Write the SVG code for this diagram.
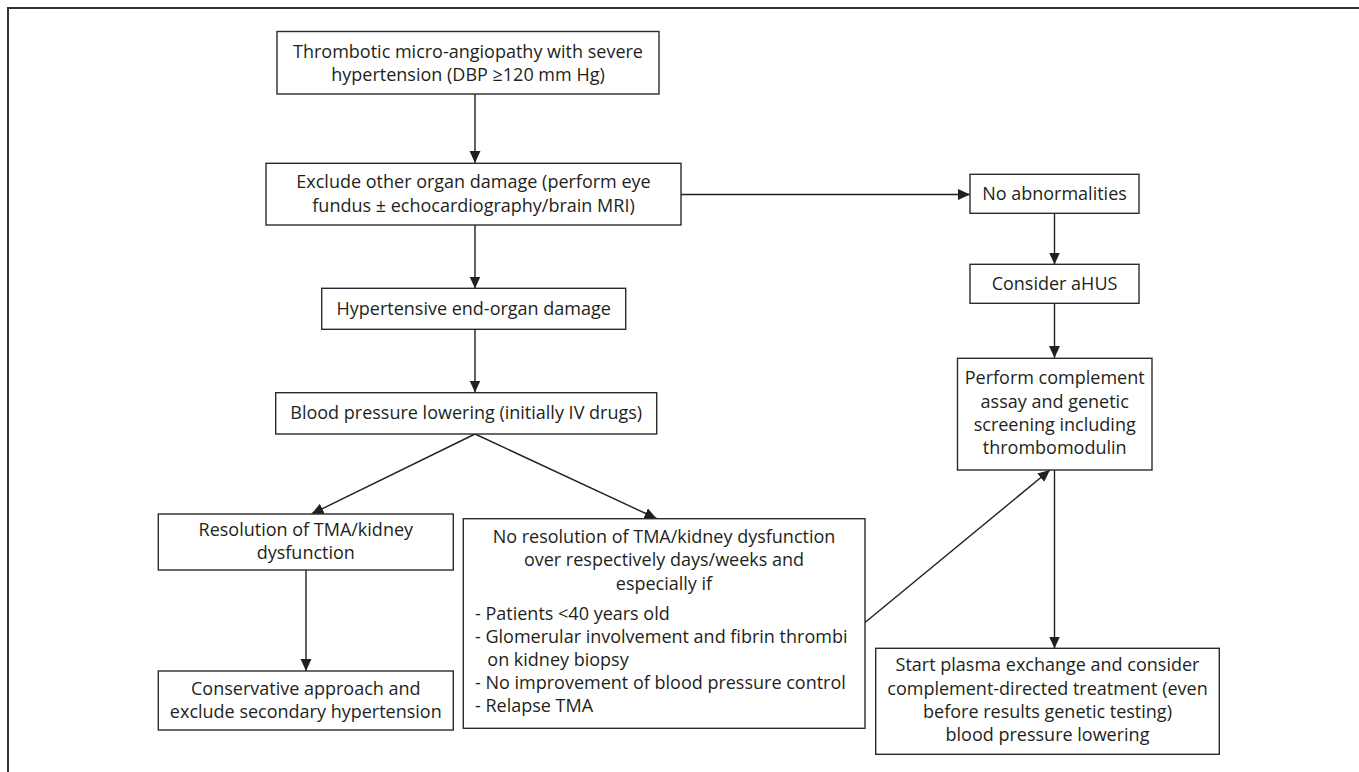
<svg xmlns="http://www.w3.org/2000/svg" width="1359" height="772" viewBox="0 0 1359 772">
<style>
  .box{fill:#ffffff;stroke:#2b2b2b;stroke-width:1.4}
  .t{font-family:"Open Sans","Noto Sans",sans-serif;font-size:18px;fill:#231f20}
  .c{text-anchor:middle}
  .ln{fill:none;stroke:#231f20;stroke-width:1.4}
  .frame{fill:none;stroke:#333333;stroke-width:2}
</style>
<defs>
  <marker id="arr" markerUnits="userSpaceOnUse" markerWidth="12" markerHeight="12" refX="11" refY="5" orient="auto" viewBox="0 0 11 10">
    <path d="M0,0 L11,5 L0,10 z" fill="#231f20"/>
  </marker>
</defs>
<rect width="1359" height="772" fill="#ffffff"/>
<path class="frame" d="M8,772 V8 H1359"/>

<g id="connectors">
  <line class="ln" x1="475" y1="94" x2="475" y2="163" marker-end="url(#arr)"/>
  <line class="ln" x1="475" y1="225" x2="475" y2="288.5" marker-end="url(#arr)"/>
  <line class="ln" x1="475" y1="329.5" x2="475" y2="392.5" marker-end="url(#arr)"/>
  <line class="ln" x1="475" y1="434" x2="311.5" y2="514" marker-end="url(#arr)"/>
  <line class="ln" x1="475" y1="434" x2="656.5" y2="518.5" marker-end="url(#arr)"/>
  <line class="ln" x1="681" y1="194.5" x2="970" y2="194.5" marker-end="url(#arr)"/>
  <line class="ln" x1="1054.5" y1="213.5" x2="1054.5" y2="264.5" marker-end="url(#arr)"/>
  <line class="ln" x1="1054.5" y1="303.5" x2="1054.5" y2="358" marker-end="url(#arr)"/>
  <line class="ln" x1="865" y1="622.5" x2="1050" y2="470" marker-end="url(#arr)"/>
  <line class="ln" x1="1054.5" y1="470" x2="1054.5" y2="648.5" marker-end="url(#arr)"/>
  <line class="ln" x1="306" y1="570" x2="306" y2="671" marker-end="url(#arr)"/>
</g>

<g id="n1">
  <rect class="box" x="277" y="31.5" width="382" height="62.5"/>
  <text class="t c" x="468" y="57.5">Thrombotic micro-angiopathy with severe</text>
  <text class="t c" x="468" y="80.8">hypertension (DBP ≥120 mm Hg)</text>
</g>
<g id="n2">
  <rect class="box" x="266" y="163.3" width="415" height="61.7"/>
  <text class="t c" x="473.5" y="188.3">Exclude other organ damage (perform eye</text>
  <text class="t c" x="473.5" y="211.6">fundus ± echocardiography/brain MRI)</text>
</g>
<g id="n3">
  <rect class="box" x="321.7" y="288.3" width="304" height="41"/>
  <text class="t c" x="473.7" y="314.5">Hypertensive end-organ damage</text>
</g>
<g id="n4">
  <rect class="box" x="275.7" y="392.7" width="381" height="41.3"/>
  <text class="t c" x="466.2" y="419">Blood pressure lowering (initially IV drugs)</text>
</g>
<g id="n5">
  <rect class="box" x="158.3" y="514" width="295" height="56"/>
  <text class="t c" x="305.8" y="536">Resolution of TMA/kidney</text>
  <text class="t c" x="305.8" y="559.3">dysfunction</text>
</g>
<g id="n6">
  <rect class="box" x="158.3" y="671" width="295" height="59"/>
  <text class="t c" x="305.8" y="694.5">Conservative approach and</text>
  <text class="t c" x="305.8" y="717.8">exclude secondary hypertension</text>
</g>
<g id="n7">
  <rect class="box" x="463.3" y="518.7" width="401.7" height="209.6"/>
  <text class="t c" x="664" y="543">No resolution of TMA/kidney dysfunction</text>
  <text class="t c" x="664" y="566.4">over respectively days/weeks and</text>
  <text class="t c" x="664" y="589.7">especially if</text>
  <text class="t" x="475" y="619.7">- Patients &lt;40 years old</text>
  <text class="t" x="475" y="643">- Glomerular involvement and fibrin thrombi</text>
  <text class="t" x="487.3" y="666.4">on kidney biopsy</text>
  <text class="t" x="475" y="689">- No improvement of blood pressure control</text>
  <text class="t" x="475" y="712.4">- Relapse TMA</text>
</g>
<g id="n8">
  <rect class="box" x="970" y="174.3" width="169" height="39"/>
  <text class="t c" x="1054.5" y="199.5">No abnormalities</text>
</g>
<g id="n9">
  <rect class="box" x="970" y="264.3" width="169" height="39"/>
  <text class="t c" x="1054.5" y="289.5">Consider aHUS</text>
</g>
<g id="n10">
  <rect class="box" x="957.5" y="358.3" width="194.5" height="111.7"/>
  <text class="t c" x="1054.7" y="384.3">Perform complement</text>
  <text class="t c" x="1054.7" y="407.6">assay and genetic</text>
  <text class="t c" x="1054.7" y="430.9">screening including</text>
  <text class="t c" x="1054.7" y="454.2">thrombomodulin</text>
</g>
<g id="n11">
  <rect class="box" x="875.7" y="648.3" width="343.6" height="106"/>
  <text class="t c" x="1047.5" y="671.4">Start plasma exchange and consider</text>
  <text class="t c" x="1047.5" y="694.7">complement-directed treatment (even</text>
  <text class="t c" x="1047.5" y="718">before results genetic testing)</text>
  <text class="t c" x="1047.5" y="741.3">blood pressure lowering</text>
</g>
</svg>
